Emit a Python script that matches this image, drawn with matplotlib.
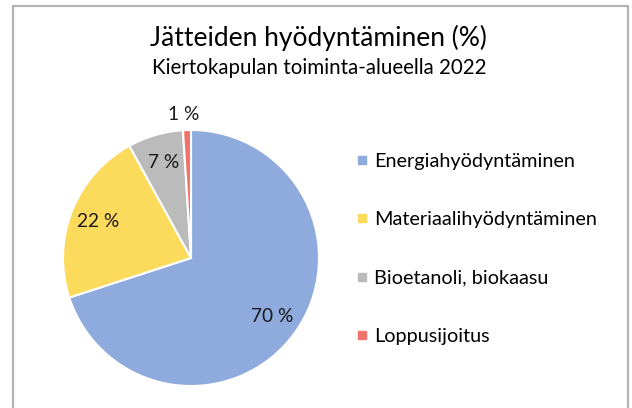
import numpy as np
import matplotlib
matplotlib.use("Agg")
import matplotlib.pyplot as plt
from matplotlib.patches import Rectangle
from matplotlib.lines import Line2D

plt.rcParams['font.family'] = ['Lato', 'DejaVu Sans']

# Data
categories = ["Energiahyödyntäminen", "Materiaalihyödyntäminen",
              "Bioetanoli, biokaasu", "Loppusijoitus"]
shares = [70, 22, 7, 1]
colors = ["#8FAADC", "#FCDB5C", "#BBBBBB", "#F2736B"]
title = "Jätteiden hyödyntäminen (%)"
subtitle = "Kiertokapulan toiminta-alueella 2022"

W, H = 632, 408
fig = plt.figure(figsize=(W / 100, H / 100), dpi=100)

# grey frame (bottom edge is cut off in the reference)
fig.patches.append(Rectangle((13 / W, -0.05), 615 / W, (H - 6) / H + 0.05,
                             transform=fig.transFigure, fill=False,
                             edgecolor="#B4B4B4", linewidth=1.6))

fig.text(318 / W, 1 - 38 / H, title, ha='center', va='center', fontsize=19)
fig.text(319 / W, 1 - 68 / H, subtitle, ha='center', va='center', fontsize=14.8)

# pie axes: centre (191, 258) px, radius 128 px
cx, cy, r = 191, 258, 128
ax = fig.add_axes([(cx - r) / W, (H - cy - r) / H, 2 * r / W, 2 * r / H])
wedges, texts, autotexts = ax.pie(
    shares, colors=colors, startangle=90, counterclock=False,
    autopct=lambda p: f"{p:.0f} %", pctdistance=0.78,
    wedgeprops=dict(edgecolor='white', linewidth=1.5),
    textprops=dict(fontsize=13.8, color='#1a1a1a'))
ax.set_xlim(-1, 1)
ax.set_ylim(-1, 1)

# small slice label goes outside
for w, t in zip(wedges, autotexts):
    if (w.theta2 - w.theta1) < 10:
        ang = np.deg2rad((w.theta1 + w.theta2) / 2)
        t.set_position((1.12 * np.cos(ang) - 0.02, 1.12 * np.sin(ang)))

handles = [Line2D([0], [0], marker='s', linestyle='none', markersize=5.5,
                  markerfacecolor=c, markeredgecolor=c) for c in colors]
fig.legend(handles, categories, loc='center left',
           bbox_to_anchor=(337 / W, 1 - 249 / H), frameon=False,
           fontsize=14.3, labelspacing=2.08, handlelength=0.7,
           handletextpad=0.25)

fig.savefig("out.png", dpi=100, facecolor='white')
